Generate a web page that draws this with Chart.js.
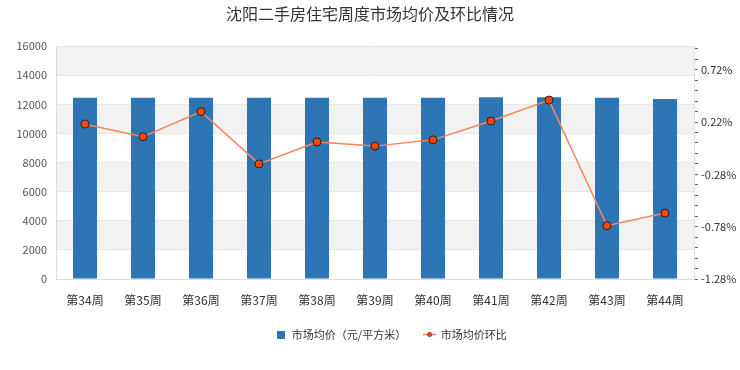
<!DOCTYPE html>
<html>
<head>
<meta charset="utf-8">
<script src="https://cdn.jsdelivr.net/npm/chart.js@4/dist/chart.umd.min.js"></script>
<style>
    body { margin: 0; background: #fff; }
</style>
</head>
<body>
<canvas width="740" height="370"></canvas>
<script>
const weeks = ['第34周', '第35周', '第36周', '第37周', '第38周', '第39周', '第40周', '第41周', '第42周', '第43周', '第44周'];
const avgPrice = [12450, 12450, 12450, 12450, 12450, 12450, 12450, 12500, 12500, 12450, 12370];
const changePct = [0.20, 0.08, 0.32, -0.18, 0.03, -0.01, 0.05, 0.23, 0.43, -0.77, -0.65];
const pctTicks = [-1.28, -0.78, -0.28, 0.22, 0.72];

const FONT = '"Noto Sans CJK SC", "Noto Sans", sans-serif';

// legend markers
function boxMarker() {
    const c = document.createElement('canvas');
    c.width = 8; c.height = 8;
    const g = c.getContext('2d');
    g.fillStyle = '#2e75b6';
    g.fillRect(0, 0, 8, 8);
    return c;
}
function lineMarker() {
    const c = document.createElement('canvas');
    c.width = 13; c.height = 7;
    const g = c.getContext('2d');
    g.strokeStyle = '#f5845c';
    g.lineWidth = 1.5;
    g.beginPath(); g.moveTo(0, 3.5); g.lineTo(13, 3.5); g.stroke();
    g.fillStyle = '#ff4500';
    g.strokeStyle = '#333';
    g.lineWidth = 0.6;
    g.beginPath(); g.arc(6.5, 3.5, 2.2, 0, Math.PI * 2); g.fill(); g.stroke();
    return c;
}

// alternating grey bands behind the grid
const bands = {
    id: 'bands',
    beforeDraw(chart) {
        const {ctx, chartArea, scales} = chart;
        const t = scales.y.ticks;
        ctx.save();
        ctx.fillStyle = '#f2f2f2';
        for (let i = 1; i < t.length - 1; i += 2) {
            const top = scales.y.getPixelForValue(t[i + 1].value);
            const bot = scales.y.getPixelForValue(t[i].value);
            ctx.fillRect(chartArea.left, top, chartArea.right - chartArea.left, bot - top);
        }
        ctx.restore();
    }
};

// legend sits a little right of centre in the original
const legendShift = {
    id: 'legendShift',
    afterLayout(chart) {
        chart.legend.left += 21;
        chart.legend.right += 21;
    }
};

new Chart(document.querySelector('canvas').getContext('2d'), {
    type: 'bar',
    data: {
        labels: weeks,
        datasets: [
            {
                type: 'line',
                label: '市场均价环比',
                data: changePct,
                yAxisID: 'y1',
                borderColor: '#f5845c',
                borderWidth: 1.5,
                pointBackgroundColor: '#ff4500',
                pointBorderColor: '#222',
                pointBorderWidth: 1,
                pointRadius: 4,
                tension: 0,
                order: 1,
            },
            {
                label: '市场均价（元/平方米）',
                data: avgPrice,
                yAxisID: 'y',
                backgroundColor: '#2e75b6',
                categoryPercentage: 1,
                barPercentage: 0.414,
                order: 2,
            },
        ],
    },
    options: {
        responsive: false,
        animation: false,
        layout: { padding: { bottom: 20 } },
        plugins: {
            title: {
                display: true,
                text: '沈阳二手房住宅周度市场均价及环比情况',
                color: '#333',
                font: { family: FONT, size: 16, weight: 'normal' },
                padding: { top: 4, bottom: 23 },
            },
            legend: {
                display: true,
                position: 'bottom',
                reverse: true,
                labels: {
                    usePointStyle: true,
                    padding: 18,
                    color: '#333',
                    font: { family: FONT, size: 11 },
                    generateLabels(chart) {
                        const items = Chart.defaults.plugins.legend.labels.generateLabels(chart);
                        items[0].pointStyle = lineMarker();
                        items[1].pointStyle = boxMarker();
                        return items;
                    },
                },
            },
            tooltip: { enabled: false },
        },
        scales: {
            x: {
                afterFit: s => { s.height = 32; },
                grid: { display: false },
                border: { display: true, color: '#ddd' },
                ticks: { color: '#333', padding: 6, font: { family: FONT, size: 12 } },
            },
            y: {
                position: 'left',
                min: 0,
                max: 16000,
                afterFit: s => { s.width = 56; },
                grid: { color: '#e6e6e6', drawTicks: false },
                border: { color: '#ddd' },
                ticks: {
                    stepSize: 2000,
                    padding: 9,
                    color: '#555',
                    font: { family: FONT, size: 11 },
                    callback: v => String(v),
                },
            },
            y1: {
                position: 'right',
                min: -1.28,
                max: 0.945,
                afterFit: s => { s.width = 46; },
                afterBuildTicks: s => {
                    const ticks = [];
                    for (let v = -1.28; v < 0.945; v += 0.1) {
                        ticks.push({ value: +v.toFixed(2) });
                    }
                    s.ticks = ticks;
                },
                grid: { drawOnChartArea: false, tickLength: 4, color: '#666' },
                border: { color: '#ddd' },
                ticks: {
                    autoSkip: false,
                    padding: 3,
                    color: '#333',
                    font: { family: FONT, size: 11 },
                    callback: v => pctTicks.some(p => Math.abs(p - v) < 0.001) ? v.toFixed(2) + '%' : '',
                },
            },
        },
    },
    plugins: [bands, legendShift],
});
</script>
</body>
</html>
